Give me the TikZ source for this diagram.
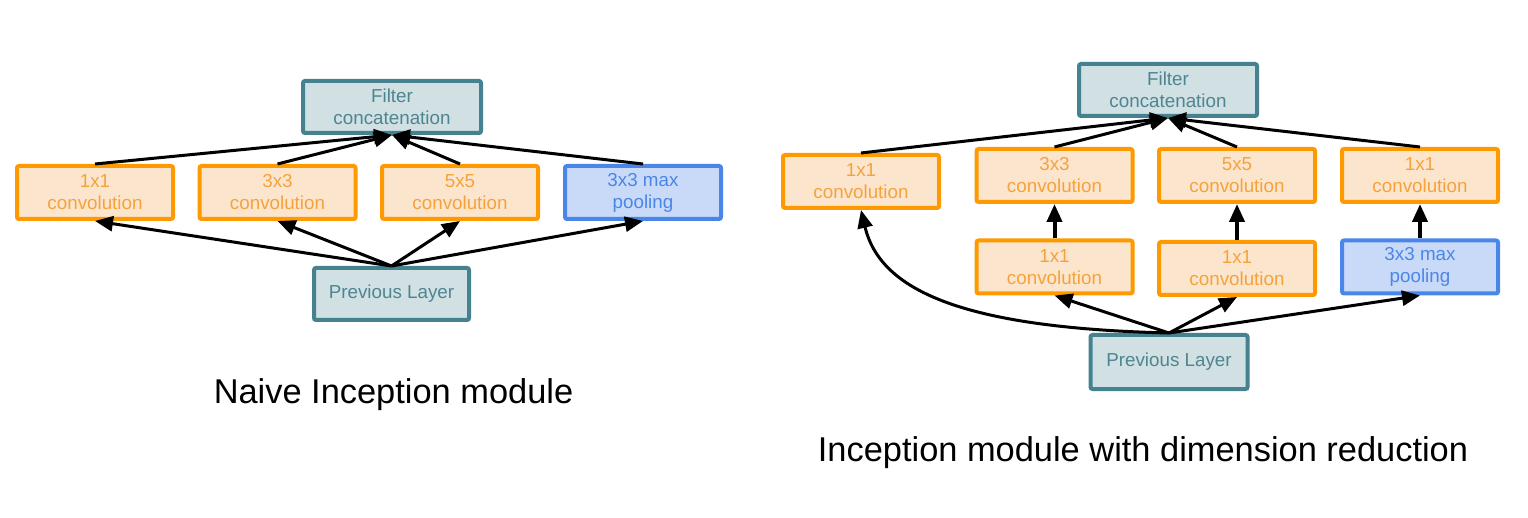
\documentclass[tikz,border=0pt]{standalone}
\usepackage{fontspec}
\setmainfont{Liberation Sans}
\usetikzlibrary{arrows.meta}
\definecolor{orB}{HTML}{FF9900}
\definecolor{orF}{HTML}{FCE5CD}
\definecolor{orT}{HTML}{F6A23C}
\definecolor{tlB}{HTML}{45818E}
\definecolor{tlF}{HTML}{D0E0E3}
\definecolor{tlT}{HTML}{4F8591}
\definecolor{blB}{HTML}{4A86E8}
\definecolor{blF}{HTML}{C9DAF8}
\definecolor{blT}{HTML}{4A86E8}
\tikzset{
  boxbase/.style={rectangle, rounded corners=2pt, line width=4pt, inner sep=0pt,
    align=center, font=\fontsize{18.8}{22}\selectfont,
    minimum width=156pt, minimum height=53pt},
  convbox/.style={boxbase, draw=orB, fill=orF, text=orT},
  tealbox/.style={boxbase, draw=tlB, fill=tlF, text=tlT, minimum width=178pt, minimum height=52pt},
  prevbox/.style={boxbase, draw=tlB, fill=tlF, text=tlT},
  poolbox/.style={boxbase, draw=blB, fill=blF, text=blT},
  conn/.style={line width=3pt, -{Triangle[length=18pt,width=15pt]}},
  vconn/.style={line width=4pt, -{Triangle[length=18pt,width=15pt]}},
  caption/.style={font=\fontsize{34.4}{40}\selectfont, inner sep=0pt}
}
\begin{document}
\begin{tikzpicture}[x=1pt,y=-1pt]
\useasboundingbox (0,0) rectangle (1528,518);
% ---------- Naive module ----------
\node[tealbox] (fc) at (392,107) {Filter\\concatenation};
\node[convbox] (a1) at (95,192.5) {1x1\\convolution};
\node[convbox] (a3) at (277.5,192.5) {3x3\\convolution};
\node[convbox] (a5) at (460,192.5) {5x5\\convolution};
\node[poolbox] (ap) at (643,192.5) {3x3 max\\pooling};
\node[prevbox, minimum width=155pt, minimum height=52pt] (pl) at (391.5,294) {Previous Layer};
\foreach \n in {a1,a3,a5,ap} {
  \draw[conn] (pl.north) -- (\n.south);
  \draw[conn] (\n.north) -- (fc.south);
}
\node[caption] (cap1) at (393.5,395) {Naive Inception module};
% ---------- Module with dimension reduction ----------
\node[tealbox] (fc2) at (1168,90) {Filter\\concatenation};
\node[convbox] (b1) at (861,181.5) {1x1\\convolution};
\node[convbox] (b3) at (1054.5,175.5) {3x3\\convolution};
\node[convbox] (b3r) at (1054.5,267) {1x1\\convolution};
\node[convbox] (b5) at (1237,175.5) {5x5\\convolution};
\node[convbox] (b5r) at (1237,268.5) {1x1\\convolution};
\node[convbox] (bp) at (1420,175.5) {1x1\\convolution};
\node[poolbox] (bpp) at (1420,267) {3x3 max\\pooling};
\node[prevbox, minimum width=157pt, minimum height=54pt] (pl2) at (1169,362) {Previous Layer};
\foreach \n in {b1,b3,b5,bp} {
  \draw[conn] (\n.north) -- (fc2.south);
}
\draw[vconn] (b3r.north) -- (b3.south);
\draw[vconn] (b5r.north) -- (b5.south);
\draw[vconn] (bpp.north) -- (bp.south);
\draw[conn] (pl2.north) -- (b3r.south);
\draw[conn] (pl2.north) -- (b5r.south);
\draw[conn] (pl2.north) -- (bpp.south);
\draw[conn] (pl2.north) .. controls +(-208,-5) and +(19,80) .. (b1.south);
\node[caption] (cap2) at (1143,453) {Inception module with dimension reduction};
\end{tikzpicture}
\end{document}
